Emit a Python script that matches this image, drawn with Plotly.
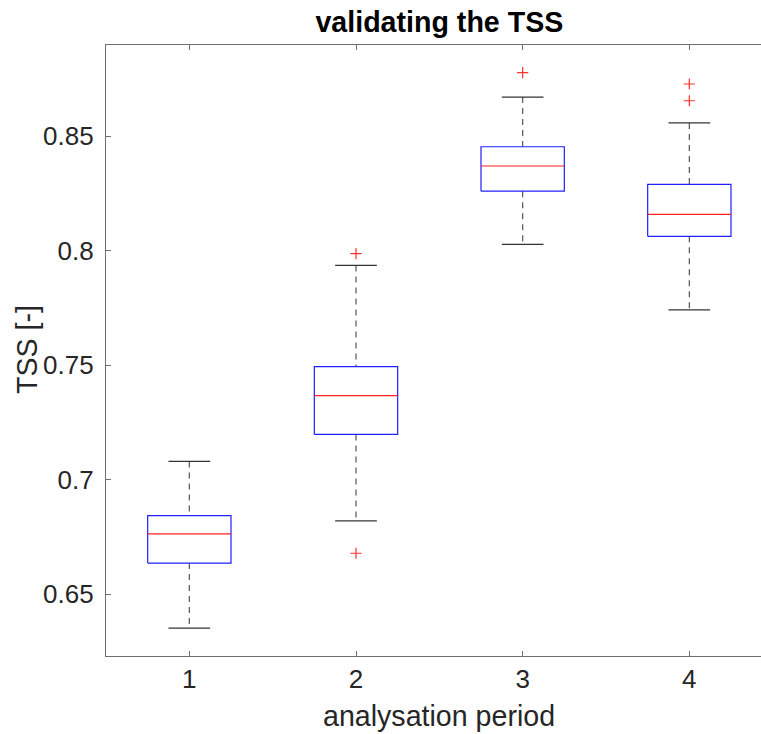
import plotly.graph_objects as go

# Summary statistics of the TSS per analysation period
periods = [1, 2, 3, 4]
lower_whisker = [0.6351, 0.6819, 0.8027, 0.7741]
q1 = [0.6635, 0.7197, 0.8259, 0.8062]
median = [0.6763, 0.7366, 0.8369, 0.8158]
q3 = [0.6842, 0.7493, 0.8453, 0.8289]
upper_whisker = [0.7079, 0.7935, 0.8670, 0.8557]
outlier_x = [2, 2, 3, 4, 4]
outlier_y = [0.7986, 0.6678, 0.8777, 0.8727, 0.8654]

box_half = 0.25
cap_half = 0.125
FONT = "Liberation Sans, Arial, Helvetica, sans-serif"
AX_GREY = "#6e6e6e"
TXT = "#262626"

fig = go.Figure()

for p, lw, a, m, b, uw in zip(periods, lower_whisker, q1, median, q3, upper_whisker):
    # dashed whiskers
    for y0, y1 in ((uw, b), (a, lw)):
        fig.add_trace(go.Scatter(x=[p, p], y=[y0, y1], mode="lines",
                                 line=dict(color="#555555", width=1.2, dash="6px,5px"),
                                 hoverinfo="skip", showlegend=False))
    # whisker caps
    for yc in (uw, lw):
        fig.add_trace(go.Scatter(x=[p - cap_half, p + cap_half], y=[yc, yc], mode="lines",
                                 line=dict(color="#333333", width=1.2),
                                 hoverinfo="skip", showlegend=False))
    # box
    fig.add_trace(go.Scatter(x=[p - box_half, p + box_half, p + box_half, p - box_half, p - box_half],
                             y=[a, a, b, b, a], mode="lines",
                             line=dict(color="#2020ff", width=1.2),
                             hoverinfo="skip", showlegend=False))
    # median
    fig.add_trace(go.Scatter(x=[p - box_half, p + box_half], y=[m, m], mode="lines",
                             line=dict(color="#ff2020", width=1.2),
                             hoverinfo="skip", showlegend=False))

fig.add_trace(go.Scatter(x=outlier_x, y=outlier_y, mode="markers",
                         marker=dict(symbol="cross-thin", size=8,
                                     line=dict(color="#ff3030", width=1.2)),
                         hoverinfo="skip", showlegend=False))

fig.update_layout(
    width=761, height=734,
    margin=dict(l=106, r=0, t=45, b=78),
    paper_bgcolor="white", plot_bgcolor="white",
    font=dict(family=FONT, color=TXT, size=26),
    showlegend=False,
    title=dict(text="<b>validating the TSS</b>", x=0.509, xref="paper", xanchor="center",
               y=1 - 22 / 734, yref="container", yanchor="middle",
               font=dict(family=FONT, size=28.6, color="#000000")),
)

fig.update_xaxes(
    range=[0.5, 4.43], tickmode="array", tickvals=periods, ticktext=[str(p) for p in periods],
    showgrid=False, zeroline=False, showline=True, linecolor=AX_GREY, linewidth=1.2,
    mirror="allticks", ticks="inside", ticklen=5, tickcolor=AX_GREY,
    tickfont=dict(size=26, color=TXT),
)
fig.update_yaxes(
    range=[0.62293, 0.88974], tickmode="array",
    tickvals=[0.65, 0.7, 0.75, 0.8, 0.85], ticktext=["0.65", "0.7", "0.75", "0.8", "0.85"],
    showgrid=False, zeroline=False, showline=True, linecolor=AX_GREY, linewidth=1.2,
    ticks="inside", ticklen=5, tickcolor=AX_GREY, ticklabelstandoff=6,
    tickfont=dict(size=26, color=TXT),
)

fig.add_annotation(text="analysation period", xref="paper", yref="paper",
                   x=0.509, y=-(716 - 656) / (656 - 45), xanchor="center", yanchor="middle",
                   showarrow=False, font=dict(family=FONT, size=28.6, color=TXT))
fig.add_annotation(text="TSS [-]", xref="paper", yref="paper",
                   x=-(106 - 27) / 655, y=(656 - 350) / (656 - 45), xanchor="center", yanchor="middle",
                   textangle=-90, showarrow=False, font=dict(family=FONT, size=28.6, color=TXT))

fig.write_html("out.html")
